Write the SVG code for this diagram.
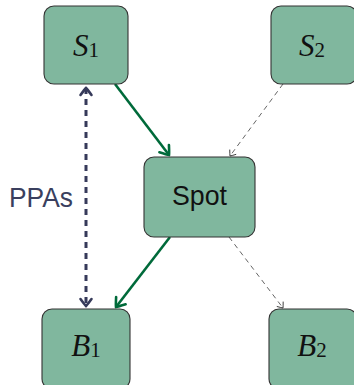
<svg xmlns="http://www.w3.org/2000/svg" width="354" height="385" viewBox="0 0 354 385">
<style>
.box{fill:#80b79e;stroke:#333;stroke-width:1.1}
.math{font-family:"Liberation Serif",serif;font-style:italic;font-size:31px;fill:#111}
.sub{font-family:"Liberation Serif",serif;font-style:normal;font-size:21px}
.sans{font-family:"Liberation Sans",Arial,sans-serif;font-size:28px}
.green{stroke:#006a3a;stroke-width:2.6;fill:none}
.thin{stroke:#222;stroke-width:0.7;fill:none;stroke-dasharray:5 4}
.ppa{stroke:#363a5a;stroke-width:3;fill:none;stroke-dasharray:6 5}
</style>
<defs>
<marker id="ag" markerUnits="userSpaceOnUse" viewBox="-10 -8 12 16" refX="0" refY="0" markerWidth="12" markerHeight="16" orient="auto">
<path d="M-8,-6 Q-1.5,-1.5 0,0 Q-1.5,1.5 -8,6" fill="none" stroke="#006a3a" stroke-width="2.6" stroke-linecap="round"/>
</marker>
<marker id="ap" markerUnits="userSpaceOnUse" viewBox="-10 -8 12 16" refX="0" refY="0" markerWidth="12" markerHeight="16" orient="auto-start-reverse">
<path d="M-7,-5.5 Q-1.5,-1.5 0,0 Q-1.5,1.5 -7,5.5" fill="none" stroke="#363a5a" stroke-width="2.6" stroke-linecap="round"/>
</marker>
<marker id="at" markerUnits="userSpaceOnUse" viewBox="-8 -6 10 12" refX="0" refY="0" markerWidth="10" markerHeight="12" orient="auto">
<path d="M-5,-4 Q-1,-1 0,0 Q-1,1 -5,4" fill="none" stroke="#222" stroke-width="0.8"/>
</marker>
</defs>
<g id="connectors">
<line class="green" x1="115" y1="84" x2="169" y2="155" marker-end="url(#ag)"/>
<line class="green" x1="170" y1="237" x2="116" y2="307" marker-end="url(#ag)"/>
<line class="thin" x1="283" y1="84" x2="230" y2="156" marker-end="url(#at)"/>
<line class="thin" x1="229" y1="237" x2="283" y2="308" marker-end="url(#at)"/>
<line class="ppa" x1="86" y1="88" x2="86" y2="306" marker-start="url(#ap)" marker-end="url(#ap)"/>
<text class="sans" x="9" y="207" textLength="64" lengthAdjust="spacingAndGlyphs" fill="#3a3f5e">PPAs</text>
</g>
<g id="S1">
<rect class="box" x="44" y="6" width="84" height="78" rx="10"/>
<text class="math" x="86" y="56" text-anchor="middle">S<tspan class="sub" dy="1">1</tspan></text>
</g>
<g id="S2">
<rect class="box" x="271" y="6" width="86" height="78" rx="10"/>
<text class="math" x="312" y="56" text-anchor="middle">S<tspan class="sub" dy="1">2</tspan></text>
</g>
<g id="Spot">
<rect class="box" x="144" y="157" width="111" height="80" rx="10"/>
<text class="sans" x="172" y="205" textLength="55" lengthAdjust="spacingAndGlyphs" fill="#111">Spot</text>
</g>
<g id="B1">
<rect class="box" x="42" y="309" width="88" height="80" rx="10"/>
<text class="math" x="86" y="356" text-anchor="middle">B<tspan class="sub" dy="1">1</tspan></text>
</g>
<g id="B2">
<rect class="box" x="269" y="309" width="88" height="80" rx="10"/>
<text class="math" x="312" y="356" text-anchor="middle">B<tspan class="sub" dy="1">2</tspan></text>
</g>
</svg>
